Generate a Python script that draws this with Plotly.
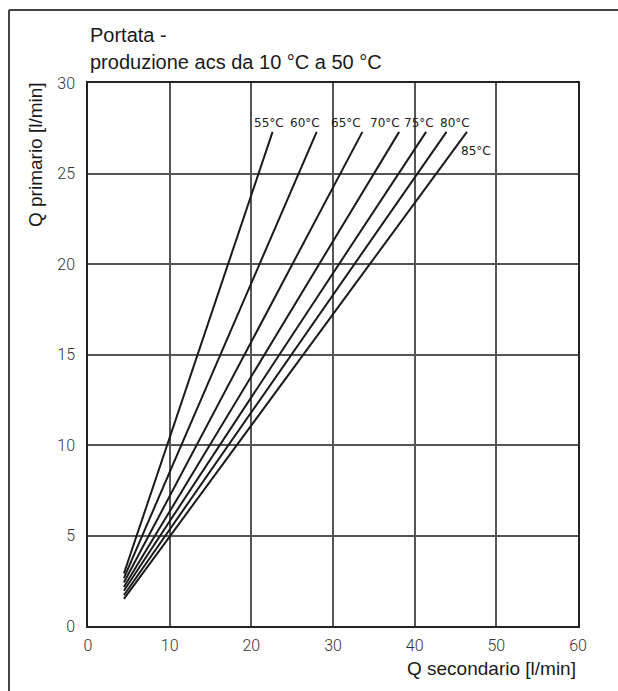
import plotly.graph_objects as go

# ---- data ----
temps = ["55°C", "60°C", "65°C", "70°C", "75°C", "80°C", "85°C"]
q_sec_start = [4.4, 4.4, 4.4, 4.4, 4.4, 4.4, 4.4]
q_pri_start = [2.9, 2.65, 2.4, 2.15, 1.95, 1.7, 1.5]
q_sec_end = [22.6, 28.0, 33.6, 38.1, 41.4, 43.9, 46.4]
q_pri_end = [27.3, 27.3, 27.3, 27.3, 27.3, 27.3, 27.3]

x_ticks = [0, 10, 20, 30, 40, 50, 60]
y_ticks = [0, 5, 10, 15, 20, 25, 30]

title_lines = ["Portata -", "produzione acs da 10 °C a 50 °C"]
x_title = "Q secondario [l/min]"
y_title = "Q primario [l/min]"

# ---- layout geometry ----
W, H = 618, 691
L, R, T, B = 88, 40, 83, 65
PW, PH = W - L - R, H - T - B


def px_x(p):
    return (p - L) / PW


def px_y(p):
    return (H - B - p) / PH


fig = go.Figure()
for i, t in enumerate(temps):
    fig.add_trace(go.Scatter(
        x=[q_sec_start[i], q_sec_end[i]],
        y=[q_pri_start[i], q_pri_end[i]],
        mode="lines", line=dict(color="#1a1a1a", width=2),
        showlegend=False, hoverinfo="skip", name=t))

# label positions (pixel shifts relative to line end)
label_shift = [(-4, 9), (-12, 9), (-16, 9), (-14, 9), (-7, 9), (8, 9), (9, -19)]
for i, t in enumerate(temps):
    dx, dy = label_shift[i]
    fig.add_annotation(x=q_sec_end[i], y=q_pri_end[i], xref="x", yref="y",
                       text=t, showarrow=False, xshift=dx, yshift=dy,
                       xanchor="center", yanchor="middle",
                       font=dict(family="DejaVu Sans", size=12, color="#222"))

fnt = "Liberation Sans Narrow, Liberation Sans, Arial"
fig.add_annotation(x=0, y=px_y(35), xref="paper", yref="paper", text=title_lines[0],
                   showarrow=False, xanchor="left", yanchor="middle",
                   font=dict(family=fnt, size=20, color="#1a1a1a"))
fig.add_annotation(x=0, y=px_y(62), xref="paper", yref="paper", text=title_lines[1],
                   showarrow=False, xanchor="left", yanchor="middle",
                   font=dict(family=fnt, size=20, color="#1a1a1a"))
fig.add_annotation(x=1, y=px_y(668), xref="paper", yref="paper", text=x_title,
                   showarrow=False, xanchor="right", yanchor="middle",
                   font=dict(family=fnt, size=19, color="#1a1a1a"))
fig.add_annotation(x=px_x(35), y=px_y(155), xref="paper", yref="paper", text=y_title,
                   showarrow=False, xanchor="center", yanchor="middle", textangle=-90,
                   font=dict(family=fnt, size=19, color="#1a1a1a"))

# outer frame (only top and left visible)
fig.add_shape(type="line", xref="paper", yref="paper",
              x0=px_x(9), y0=px_y(10), x1=px_x(9), y1=px_y(700),
              line=dict(color="#444", width=2))
fig.add_shape(type="line", xref="paper", yref="paper",
              x0=px_x(9), y0=px_y(10), x1=px_x(630), y1=px_y(10),
              line=dict(color="#444", width=2))

tickfont = dict(family="Roboto", size=16, color="#333", weight=300)
fig.update_xaxes(range=[0, 60], tickvals=x_ticks, ticktext=[str(v) for v in x_ticks],
                 showgrid=True, gridcolor="#555", gridwidth=1.5,
                 showline=True, linecolor="#222", linewidth=1.5, mirror=True,
                 zeroline=False, ticks="", tickfont=tickfont, ticklabelstandoff=4)
fig.update_yaxes(range=[0, 30], tickvals=y_ticks, ticktext=[str(v) for v in y_ticks],
                 showgrid=True, gridcolor="#555", gridwidth=1.5,
                 showline=True, linecolor="#222", linewidth=1.5, mirror=True,
                 zeroline=False, ticks="", tickfont=tickfont, ticklabelstandoff=8)
fig.update_layout(width=W, height=H, margin=dict(l=L, r=R, t=T, b=B),
                  plot_bgcolor="white", paper_bgcolor="white")

fig.write_html("out.html")
